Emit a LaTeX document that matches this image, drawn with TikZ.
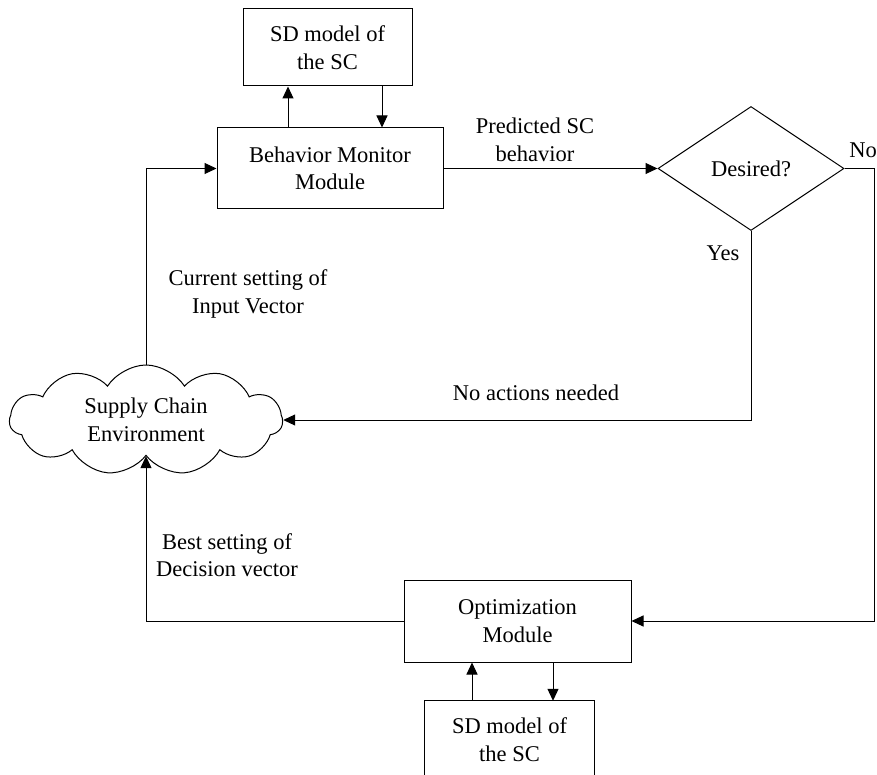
\documentclass[tikz,border=0pt]{standalone}
\usepackage{fontspec}
\setmainfont{Liberation Serif}
\usetikzlibrary{arrows.meta,shapes.geometric,shapes.symbols}
\begin{document}
\begin{tikzpicture}[x=1pt,y=-1pt,
  every node/.style={font=\fontsize{22.5}{27.5}\selectfont, align=center},
  box/.style={draw, line width=1pt, inner sep=0pt},
  arr/.style={line width=1pt, -{Triangle[length=12pt,width=11pt]}},
  ln/.style={line width=1pt}]
\useasboundingbox (0,0) rectangle (877,775);
\clip (0,0) rectangle (877,775);
\node[box, minimum width=169pt, minimum height=77pt] (sd1) at (327.5,47.5) {SD model of\\the SC};
\node[box, minimum width=226pt, minimum height=81pt] (bm) at (330,168.5) {Behavior Monitor\\Module};
\node[draw, line width=1pt, diamond, aspect=1.5, minimum width=186pt, minimum height=124pt, inner sep=0pt] (dec) at (751,168.5) {Desired?};
\node[draw, line width=1pt, cloud, cloud puffs=11, cloud puff arc=115, cloud ignores aspect, minimum width=273pt, minimum height=110pt, inner sep=0pt] (env) at (146,420) {Supply Chain\\Environment};
\node[box, minimum width=227pt, minimum height=82pt] (opt) at (517.5,621) {Optimization\\Module};
\node[inner sep=0pt, minimum width=169pt, minimum height=77pt] (sd2) at (509.5,739.5) {SD model of\\the SC};
\draw[ln] (sd2.south west) -- (sd2.north west) -- (sd2.north east) -- (sd2.south east);
\coordinate (xa) at (288,0);
\coordinate (xb) at (382,0);
\coordinate (xc) at (472,0);
\coordinate (xd) at (553,0);
\coordinate (noR) at (874,168.5);
\draw[arr] (bm.north -| xa) -- (sd1.south -| xa);
\draw[arr] (sd1.south -| xb) -- (bm.north -| xb);
\draw[arr] (sd2.north -| xc) -- (opt.south -| xc);
\draw[arr] (opt.south -| xd) -- (sd2.north -| xd);
\draw[arr] (bm.east) -- (dec.west);
\draw[arr] (dec.east) -- (noR) |- (opt.east);
\draw[arr] (dec.south) |- (env.east);
\draw[arr] (opt.west) -| (env.south);
\draw[arr] (env.north) |- (bm.west);
\node (lp) at (535,140) {Predicted SC\\behavior};
\node (lno) at (863,150) {No};
\node (lyes) at (723,253) {Yes};
\node (lcur) at (248,294) {Current setting of\\Input Vector};
\node (lna) at (536,393) {No actions needed};
\node (lbest) at (227,555) {Best setting of\\Decision vector};
\end{tikzpicture}
\end{document}
